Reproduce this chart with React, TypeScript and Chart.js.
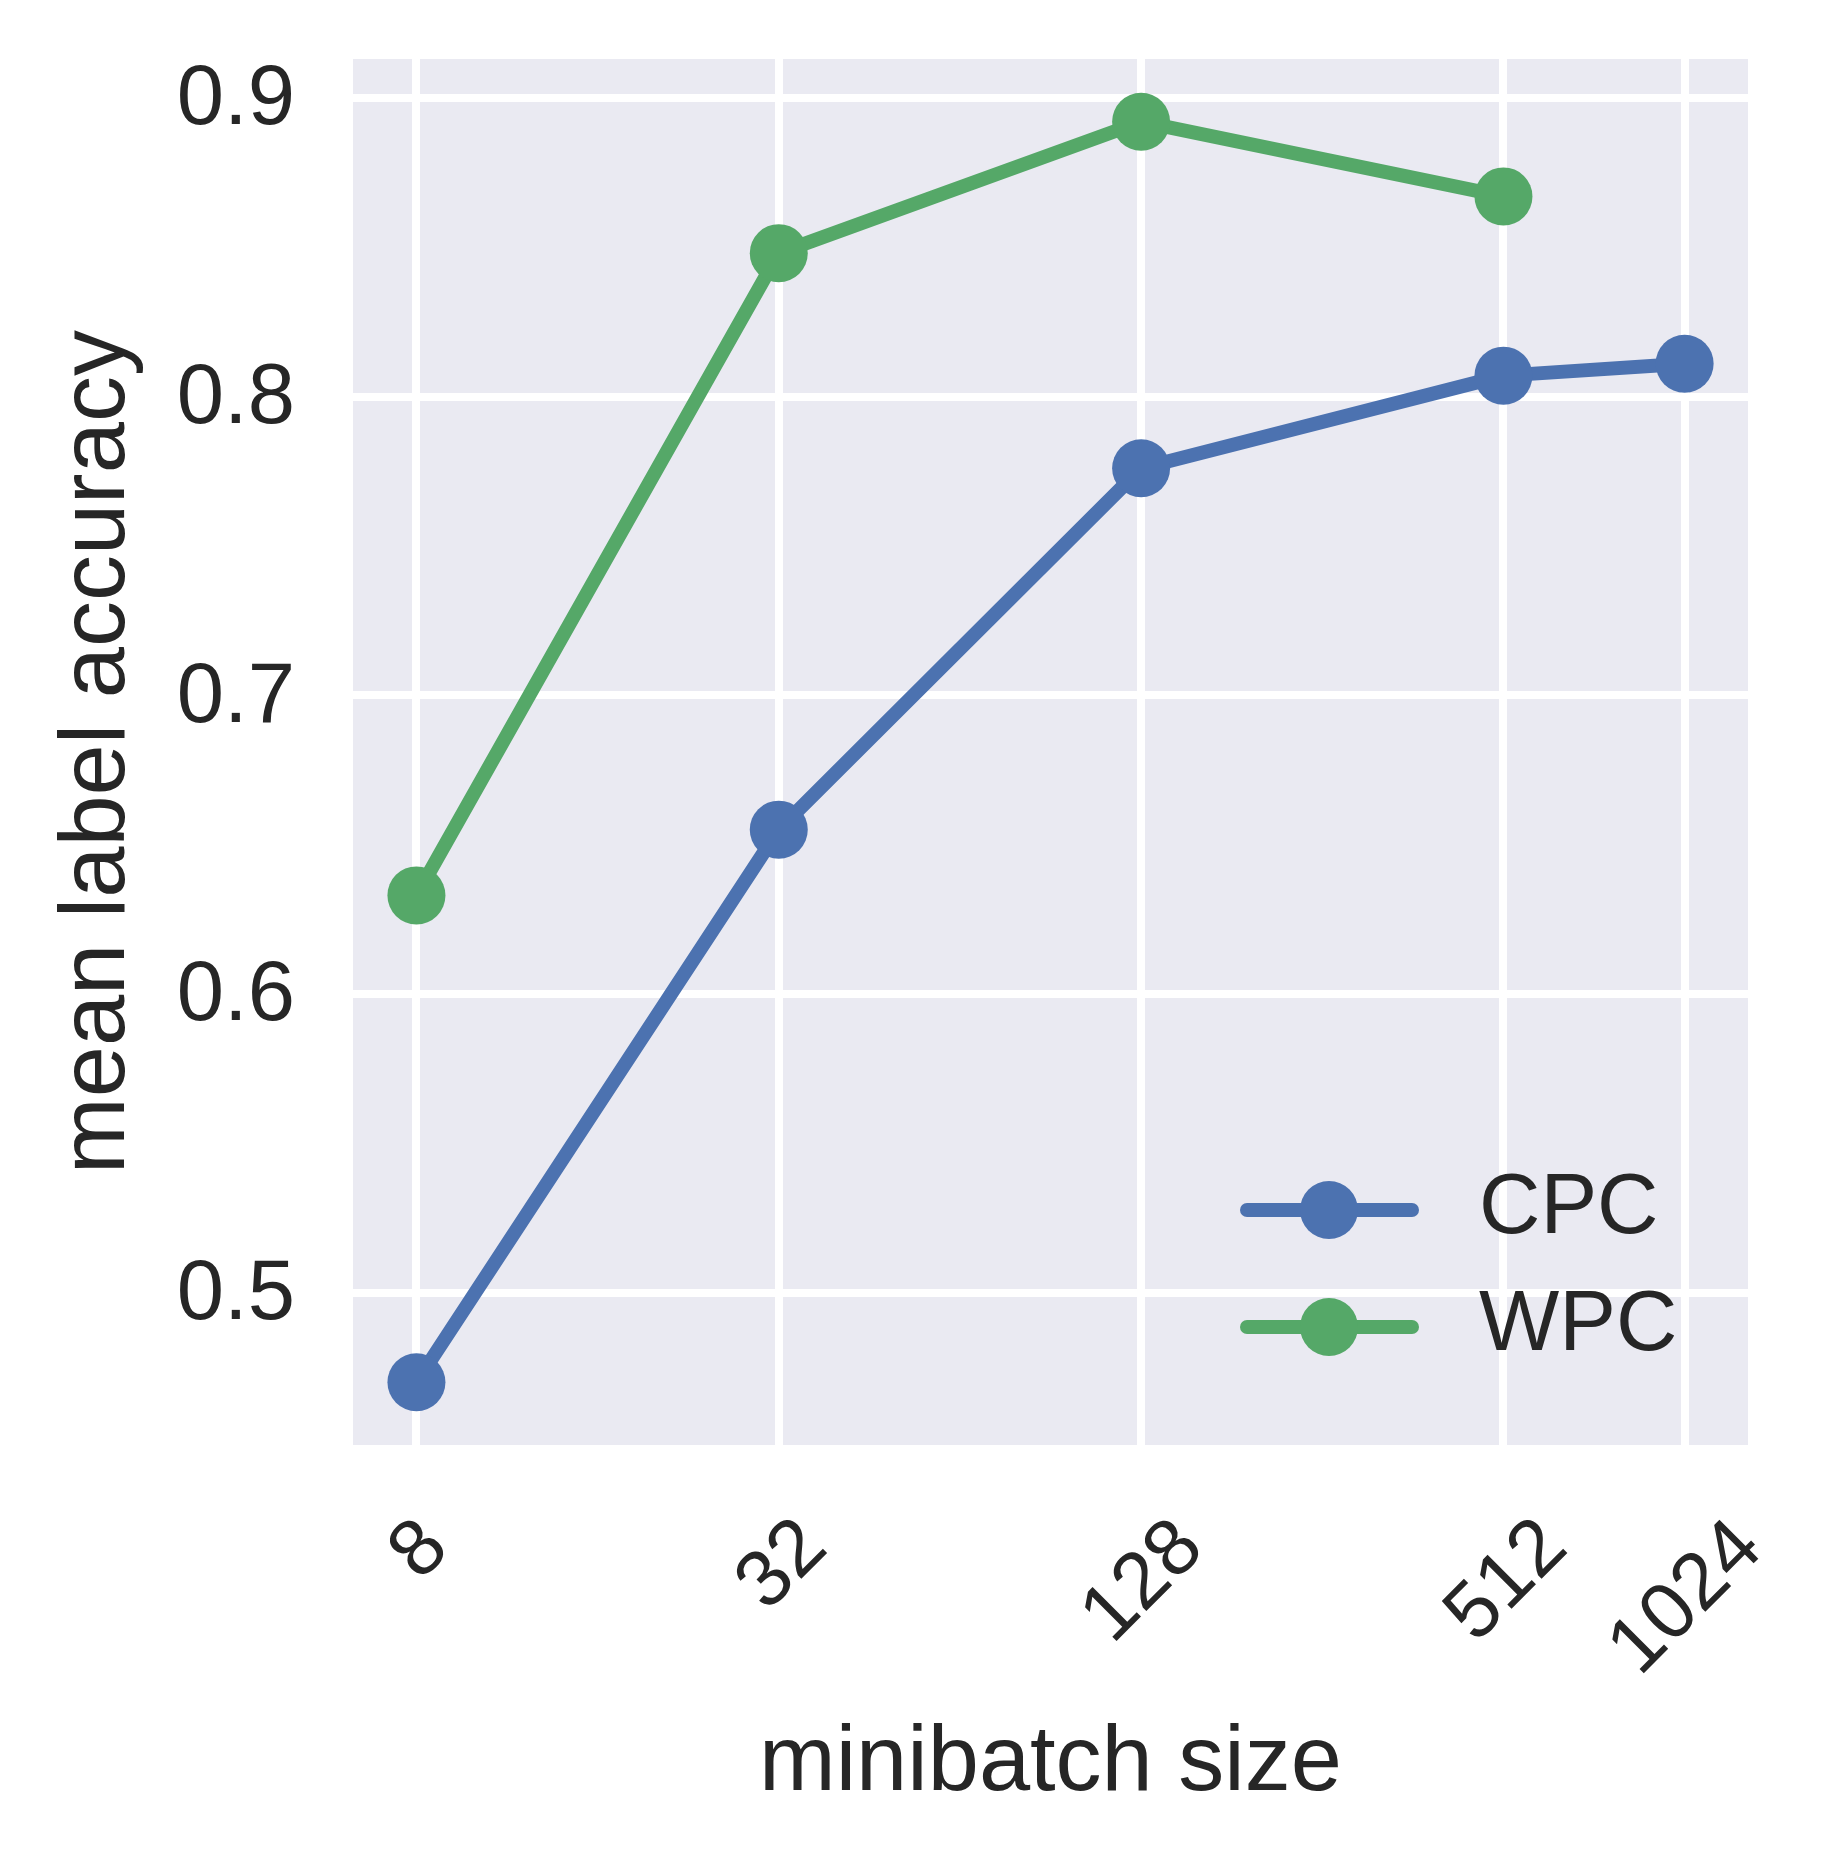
import { useEffect, useRef } from 'react';
import { Chart, registerables } from 'chart.js';

Chart.register(...registerables);

// values
const batchSizes = [8, 32, 128, 512, 1024];
const cpcAccuracy = [0.47, 0.655, 0.776, 0.807, 0.811];
const wpcAccuracy = [0.633, 0.848, 0.892, 0.867, null];
const yTicks = [0.5, 0.6, 0.7, 0.8, 0.9];
const seriesNames = ['CPC', 'WPC'];
const seriesColors = ['#4C72B0', '#55A868'];

const FONT = '"Liberation Sans", Arial, Helvetica, sans-serif';
const TEXT = '#262626';

const plotBackground = {
	id: 'plotBackground',
	beforeDraw(chart: any) {
		const { ctx, chartArea: a } = chart;
		ctx.save();
		ctx.fillStyle = '#EAEAF2';
		ctx.fillRect(a.left, a.top, a.right - a.left, a.bottom - a.top);
		ctx.restore();
	},
};

// rotated x tick labels, centred under each tick like matplotlib
const xTickLabels = {
	id: 'xTickLabels',
	afterDraw(chart: any) {
		const { ctx, chartArea } = chart;
		const scale = chart.scales.x;
		const top = chartArea.bottom + 68;
		ctx.save();
		ctx.font = `80px ${FONT}`;
		ctx.fillStyle = TEXT;
		ctx.textAlign = 'left';
		ctx.textBaseline = 'alphabetic';
		batchSizes.forEach((v) => {
			const label = String(v);
			const m = ctx.measureText(label);
			const iw = m.actualBoundingBoxLeft + m.actualBoundingBoxRight;
			const ih = m.actualBoundingBoxAscent + m.actualBoundingBoxDescent;
			const cx = (m.actualBoundingBoxRight - m.actualBoundingBoxLeft) / 2;
			const cy = (m.actualBoundingBoxDescent - m.actualBoundingBoxAscent) / 2;
			const px = scale.getPixelForValue(v);
			const py = top + (iw + ih) / (2 * Math.SQRT2);
			ctx.save();
			ctx.translate(px, py);
			ctx.rotate(-Math.PI / 4);
			ctx.fillText(label, -cx, -cy);
			ctx.restore();
		});
		ctx.restore();
	},
};

// line + marker legend in the lower right
const lineLegend = {
	id: 'lineLegend',
	afterDraw(chart: any) {
		const { ctx, chartArea: a } = chart;
		ctx.save();
		chart.data.datasets.forEach((ds: any, i: number) => {
			const y = a.bottom - 235 + i * 117;
			ctx.strokeStyle = ds.borderColor;
			ctx.lineWidth = 14;
			ctx.lineCap = 'round';
			ctx.beginPath();
			ctx.moveTo(a.right - 501, y);
			ctx.lineTo(a.right - 336, y);
			ctx.stroke();
			ctx.fillStyle = ds.borderColor;
			ctx.beginPath();
			ctx.arc(a.right - 419, y, 29, 0, Math.PI * 2);
			ctx.fill();
			ctx.fillStyle = TEXT;
			ctx.font = `85px ${FONT}`;
			ctx.textAlign = 'left';
			ctx.textBaseline = 'middle';
			ctx.fillText(ds.label, a.right - 269, y);
		});
		ctx.restore();
	},
};

export default function App() {
	const canvasRef = useRef<HTMLCanvasElement | null>(null);

	useEffect(() => {
		if (!canvasRef.current) return;
		const series = [cpcAccuracy, wpcAccuracy];
		const chart = new Chart(canvasRef.current, {
			type: 'line',
			data: {
				datasets: seriesNames.map((name, i) => ({
					label: name,
					data: batchSizes
						.map((x, j) => ({ x, y: series[i][j] }))
						.filter((p) => p.y !== null),
					borderColor: seriesColors[i],
					backgroundColor: seriesColors[i],
					borderWidth: 14,
					borderCapStyle: 'round',
					borderJoinStyle: 'round',
					pointRadius: 29,
					pointHoverRadius: 29,
					pointBorderWidth: 0,
					pointBackgroundColor: seriesColors[i],
					tension: 0,
					fill: false,
					clip: false,
				})),
			},
			options: {
				animation: false,
				responsive: true,
				maintainAspectRatio: false,
				layout: { padding: { top: 51, right: 80, bottom: 0, left: 0 } },
				plugins: {
					legend: { display: false },
					tooltip: { enabled: false },
				},
				scales: {
					x: {
						type: 'logarithmic',
						min: 6.276,
						max: 1305,
						afterBuildTicks: (s: any) => {
							s.ticks = batchSizes.map((value) => ({ value }));
						},
						afterFit: (s: any) => {
							s.height = 412;
							s.paddingLeft = 0;
							s.paddingRight = 0;
						},
						grid: { color: '#ffffff', lineWidth: 8, drawTicks: false },
						border: { display: false },
						ticks: { display: false },
						title: {
							display: true,
							text: 'minibatch size',
							color: TEXT,
							font: { family: FONT, size: 92 },
							padding: { top: 0, bottom: 37 },
						},
					},
					y: {
						min: 0.449,
						max: 0.913,
						afterBuildTicks: (s: any) => {
							s.ticks = yTicks.map((value) => ({ value }));
						},
						afterFit: (s: any) => {
							s.width = 345;
							s.paddingTop = 0;
							s.paddingBottom = 0;
						},
						grid: { color: '#ffffff', lineWidth: 8, drawTicks: false },
						border: { display: false },
						ticks: {
							padding: 58,
							labelOffset: 3,
							color: TEXT,
							font: { family: FONT, size: 85 },
							callback: (v: any) => Number(v).toFixed(1),
						},
						title: {
							display: true,
							text: 'mean label accuracy',
							color: TEXT,
							font: { family: FONT, size: 92 },
							padding: { top: 35, bottom: 0 },
						},
					},
				},
			},
			plugins: [plotBackground, xTickLabels, lineLegend],
		} as any);
		return () => chart.destroy();
	}, []);

	return (
		<div style={{ width: 1820, height: 1849, position: 'relative' }}>
			<canvas ref={canvasRef}></canvas>
		</div>
	);
}
